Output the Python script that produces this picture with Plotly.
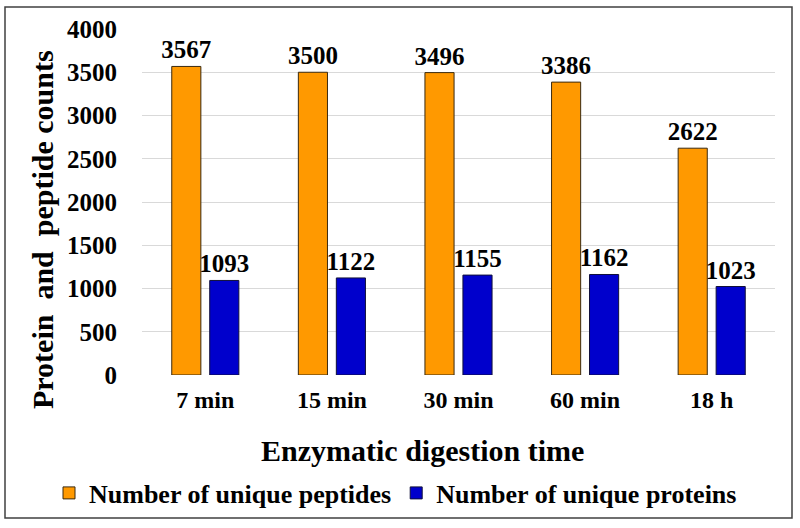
import plotly.graph_objects as go

categories = ["7 min", "15 min", "30 min", "60 min", "18 h"]
peptides = [3567, 3500, 3496, 3386, 2622]
proteins = [1093, 1122, 1155, 1162, 1023]
series_names = ["Number of unique peptides", "Number of unique proteins"]
y_ticks = [0, 500, 1000, 1500, 2000, 2500, 3000, 3500, 4000]

FONT = "Liberation Serif, Times New Roman, serif"
PLOT_W, PLOT_H = 633, 346

fig = go.Figure()
fig.add_trace(go.Bar(
    x=categories, y=peptides, name=f"<b>{series_names[0]}</b>",
    marker=dict(color="#FF9900", line=dict(color="#3a2a10", width=1)),
    width=0.23, offset=-0.265,
    text=[f"<b>{v}</b>" for v in peptides], textposition="outside",
    constraintext="none",
    textfont=dict(family=FONT, size=25, color="black"), cliponaxis=False,
))
fig.add_trace(go.Bar(
    x=categories, y=proteins, name=f"<b>{series_names[1]}</b>",
    marker=dict(color="#0000CC", line=dict(color="#10103a", width=1)),
    width=0.23, offset=0.035,
    text=[f"<b>{v}</b>" for v in proteins], textposition="outside",
    constraintext="none",
    textfont=dict(family=FONT, size=25, color="black"), cliponaxis=False,
))

fig.update_layout(
    width=800, height=528,
    margin=dict(l=142, r=25, t=29, b=153, autoexpand=False),
    paper_bgcolor="white", plot_bgcolor="white",
    font=dict(family=FONT, color="black"),
    showlegend=True,
    legend=dict(orientation="h", xref="paper", x=(49 - 142) / PLOT_W, xanchor="left",
                yref="paper", y=-(493 - 375) / PLOT_H, yanchor="middle",
                bgcolor="rgba(0,0,0,0)",
                font=dict(family=FONT, size=26, color="black"),
                itemwidth=30, tracegroupgap=0),
    xaxis=dict(
        tickfont=dict(family=FONT, size=24, color="black"),
        tickprefix="<b>", ticksuffix="</b>",
        showline=False, ticks="", ticklabelstandoff=8,
    ),
    yaxis=dict(
        range=[0, 4000], tickvals=y_ticks,
        ticktext=[f"<b>{v}</b>" for v in y_ticks],
        tickfont=dict(family=FONT, size=25, color="black"),
        gridcolor="#d9d9d9", gridwidth=1, zeroline=False, showline=False,
        ticklabelstandoff=24,
    ),
    annotations=[
        dict(
            text="<b>Protein&nbsp; and&nbsp; peptide counts</b>",
            textangle=-90, xref="paper", yref="paper",
            x=(42 - 142) / PLOT_W, y=(375 - 230) / PLOT_H,
            xanchor="center", yanchor="middle", showarrow=False,
            font=dict(family=FONT, size=30, color="black"),
        ),
        dict(
            text="<b>Enzymatic digestion time</b>",
            xref="paper", yref="paper",
            x=(422 - 142) / PLOT_W, y=-(450 - 375) / PLOT_H,
            xanchor="center", yanchor="middle", showarrow=False,
            font=dict(family=FONT, size=30, color="black"),
        ),
    ],
)

fig.add_shape(type="rect", xref="paper", yref="paper",
              x0=(5 - 142) / PLOT_W, x1=(792 - 142) / PLOT_W,
              y0=-(518 - 375) / PLOT_H, y1=(375 - 7) / PLOT_H,
              line=dict(color="#404040", width=1.5), fillcolor="rgba(0,0,0,0)", layer="above")

fig.write_html("out.html", post_script="document.body.style.margin='0';",
               config={"displayModeBar": False})
